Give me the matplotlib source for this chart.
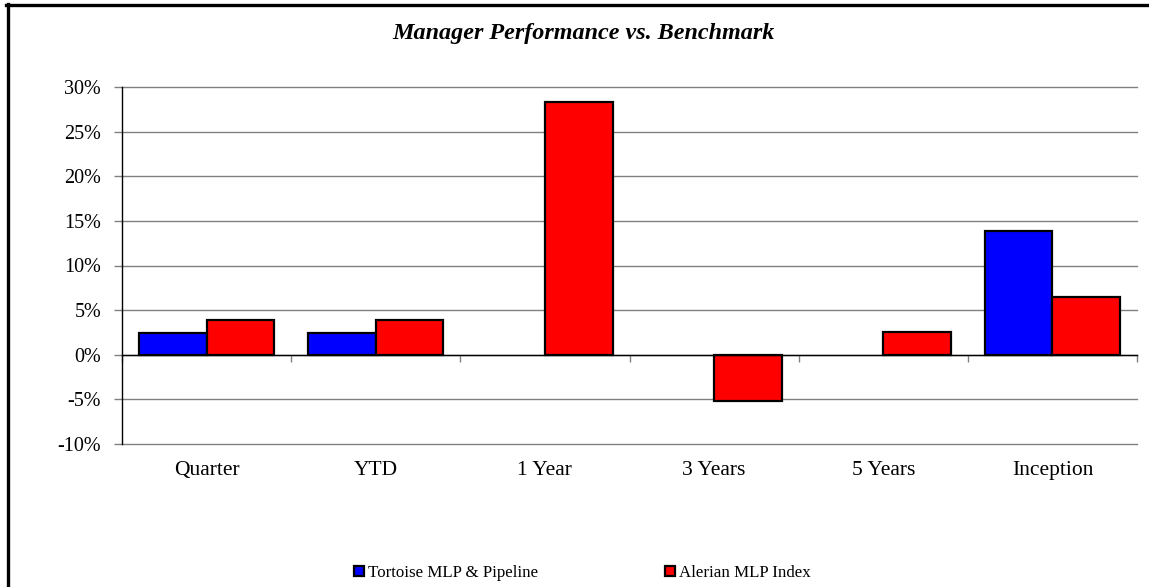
import matplotlib
matplotlib.use("Agg")
import matplotlib.pyplot as plt
from matplotlib.patches import Patch
from matplotlib.lines import Line2D
import numpy as np

categories = ["Quarter", "YTD", "1 Year", "3 Years", "5 Years", "Inception"]
tortoise = [2.45, 2.45, 0.0, 0.0, 0.0, 13.9]
alerian = [3.9, 3.9, 28.3, -5.15, 2.6, 6.5]
series_names = ["Tortoise MLP & Pipeline", "Alerian MLP Index"]
yticks = [-10, -5, 0, 5, 10, 15, 20, 25, 30]

W, H = 1149, 587
plt.rcParams["font.family"] = ["Liberation Serif", "DejaVu Serif"]

fig = plt.figure(figsize=(W / 100, H / 100), dpi=100)
ax = fig.add_axes([122 / W, 1 - 444 / H, (1137 - 122) / W, (444 - 87) / H])


def visible(vals):
    # empty periods get no bar outline
    arr = np.asarray(vals, dtype=float)
    return np.where(arr == 0, np.nan, arr)


x = np.arange(len(categories))
bw = 0.4
ax.bar(x - bw / 2, visible(tortoise), width=bw, color="#0000FF",
       edgecolor="black", linewidth=1.6, zorder=3)
ax.bar(x + bw / 2, visible(alerian), width=bw, color="#FF0000",
       edgecolor="black", linewidth=1.6, zorder=3)

ax.set_xlim(-0.5, len(categories) - 0.5)
ax.set_ylim(-10, 30)
ax.set_yticks(yticks)
ax.set_yticklabels([f"{v}%" for v in yticks], fontsize=14.5)
ax.yaxis.grid(True, color="#808080", linewidth=1.0, zorder=0)
for gl in ax.get_ygridlines():
    gl.set_clip_on(False)

for s in ["top", "right"]:
    ax.spines[s].set_visible(False)
ax.spines["left"].set_color("black")
ax.spines["left"].set_linewidth(1.0)
ax.spines["bottom"].set_position(("data", 0))
ax.spines["bottom"].set_color("black")
ax.spines["bottom"].set_linewidth(1.0)
ax.spines["bottom"].set_zorder(4)

ax.set_xticks(np.arange(len(categories) + 1) - 0.5)
ax.set_xticklabels([])
ax.tick_params(axis="x", direction="out", length=5, width=1, color="#808080")
ax.tick_params(axis="y", direction="out", length=6, width=1, color="#808080",
               pad=9)

for i, c in enumerate(categories):
    ax.text(i, -0.074, c, transform=ax.get_xaxis_transform(), ha="center",
            va="center", fontsize=15.5)

fig.text(584 / W, 1 - 33 / H, "Manager Performance vs. Benchmark",
         ha="center", va="center", fontsize=17.4, fontweight="bold",
         style="italic")

handles = [Patch(facecolor="#0000FF", edgecolor="black", linewidth=1.6),
           Patch(facecolor="#FF0000", edgecolor="black", linewidth=1.6)]
fig.legend(handles, series_names, loc="center left",
           bbox_to_anchor=(347 / W, 1 - 573 / H), ncol=2, frameon=False,
           fontsize=12.2, handlelength=0.6, handleheight=0.6,
           handletextpad=0.25, columnspacing=7.45, borderaxespad=0)

# outer chart-area frame
fig.add_artist(Line2D([6 / W, 1.0], [1 - 4.5 / H, 1 - 4.5 / H],
                      transform=fig.transFigure, color="black", linewidth=2.4))
fig.add_artist(Line2D([7.5 / W, 7.5 / W], [0, 1 - 3.5 / H],
                      transform=fig.transFigure, color="black", linewidth=2.4))

fig.savefig("out.png", dpi=100)
